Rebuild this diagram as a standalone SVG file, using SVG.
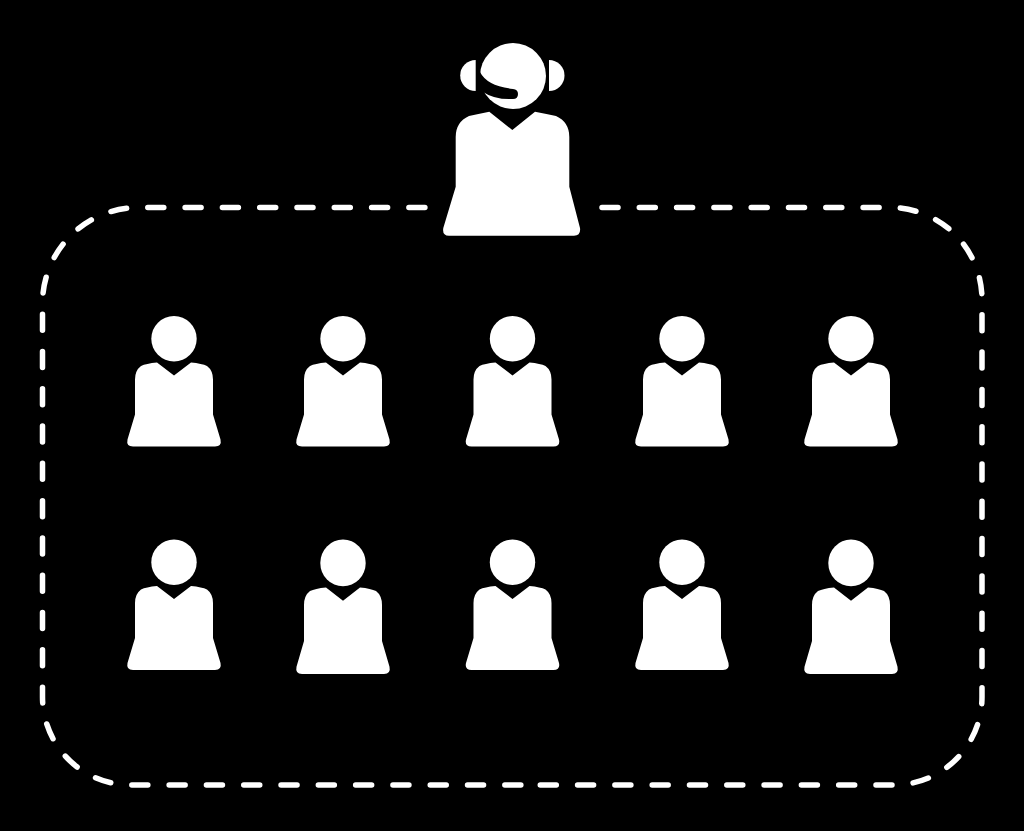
<svg xmlns="http://www.w3.org/2000/svg" width="1024" height="831" viewBox="0 0 1024 831">
<style>
.p{fill:#fff}
.b{fill:none;stroke:#fff;stroke-width:5.500;stroke-linecap:round;stroke-dasharray:16 21.300}
</style>
<defs>
<g id="person">
<circle cx="0" cy="-107.800" r="22.700"/>
<path d="M-17-84 L0-71 L17-84 Q28-83 33-80.500 Q39-76 39-67 L39-32 L46.500-7 Q48 0 41 0 L-41 0 Q-48 0 -46.500-7 L-39-32 L-39-67 Q-39-76 -33-80.500 Q-28-83 -17-84Z"/>
</g>
</defs>
<rect width="1024" height="831" fill="#000"/>
<g id="connectors">
<path class="b" d="M602 207.500 L890 207.500 A92 92 0 0 1 982 299.500 L982 697 A88 88 0 0 1 894 785 L530 785"/>
<path class="b" d="M424.900 207.500 L138.500 207.500 A96 96 0 0 0 42.500 303.500 L42.500 697 A88 88 0 0 0 130.500 785 L530 785"/>
</g>
<g id="agent" class="p">
<circle cx="513" cy="76" r="33"/>
<path d="M476 70 L480 72 Q487 86 513 89 Q518 89.500 518 94 Q518 99 513 99 Q495 100 483 92 L476 92Z" fill="#000"/>
<path d="M475.700 60 A15.500 15.500 0 0 0 475.700 91Z"/>
<path d="M549 60 A15.500 15.500 0 0 1 549 91Z"/>
<path d="M489.300 111.700 L512.300 130 L535 111.700 Q547 114 556 116 Q569.300 122 569.300 137 L569.300 186.700 L580 228 Q581 235.700 574 235.700 L449 235.700 Q442 235.700 443.300 228 L455.700 186.700 L455.700 137 Q455.700 122 469 116 Q478 114 489.300 111.700Z"/>
</g>
<g class="p">
<use id="n1" href="#person" x="174" y="446.500"/>
<use id="n2" href="#person" x="343" y="446.500"/>
<use id="n3" href="#person" x="512.500" y="446.500"/>
<use id="n4" href="#person" x="682" y="446.500"/>
<use id="n5" href="#person" x="851" y="446.500"/>
<use id="n6" href="#person" x="174" y="670"/>
<use id="n7" href="#person" transform="translate(343 674) scale(1 1.030)"/>
<use id="n8" href="#person" x="512.500" y="670"/>
<use id="n9" href="#person" x="682" y="670"/>
<use id="n10" href="#person" transform="translate(851 674) scale(1 1.030)"/>
</g>
</svg>
